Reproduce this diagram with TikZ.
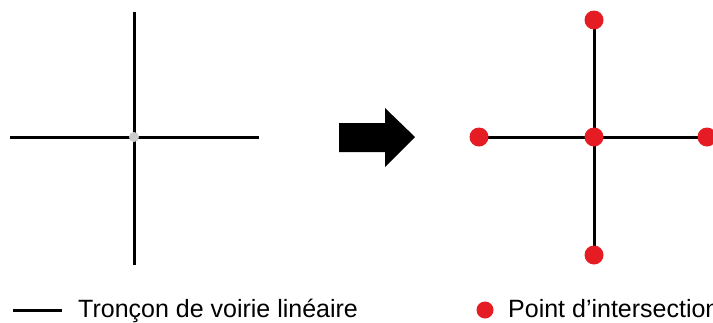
\documentclass[tikz,border=0pt]{standalone}
\usepackage{fontspec}
\setmainfont{Liberation Sans}
\usetikzlibrary{backgrounds}
\definecolor{rougepoint}{RGB}{230,28,36}
\tikzset{
  troncon/.style={line width=3pt, black},
  pointgris/.style={circle, fill=black!20, inner sep=0pt, minimum size=10pt},
  pointrouge/.style={circle, fill=rougepoint, inner sep=0pt, minimum size=19pt},
  legende/.style={anchor=base west, font=\fontsize{25}{28}\selectfont, inner sep=0pt}
}
\begin{document}
\begin{tikzpicture}[x=1pt, y=-1pt]
    \useasboundingbox (0,0) rectangle (713,322);
    \clip (0,0) rectangle (713,322);

    % croisement avant
    \coordinate (gO) at (10,137);
    \coordinate (gE) at (259,137);
    \coordinate (gN) at (134,12);
    \coordinate (gS) at (134,265);
    \node[pointgris] (gC) at (134,137) {};
    \begin{scope}[on background layer]
        \draw[troncon] (gO) -- (gE);
        \draw[troncon] (gN) -- (gS);
    \end{scope}

    % fleche
    \fill[black] (339,123) -- (385,123) -- (385,108) -- (415,137)
        -- (385,167) -- (385,152) -- (339,152) -- cycle;

    % croisement apres
    \node[pointrouge] (dC) at (594,137) {};
    \node[pointrouge] (dN) at (594,20) {};
    \node[pointrouge] (dS) at (594,255) {};
    \node[pointrouge] (dO) at (479,137) {};
    \node[pointrouge] (dE) at (707,137) {};
    \begin{scope}[on background layer]
        \draw[troncon] (dO.center) -- (dE.center);
        \draw[troncon] (dN.center) -- (dS.center);
    \end{scope}

    % legende
    \coordinate (l1) at (13,310);
    \coordinate (l2) at (62,310);
    \draw[troncon] (l1) -- (l2);
    \node[legende] (t1) at (78,317) {Tronçon de voirie linéaire};
    \node[pointrouge, minimum size=17pt] (lp) at (485,310) {};
    \node[legende] (t2) at (508,317) {Point d’intersection};
\end{tikzpicture}
\end{document}
